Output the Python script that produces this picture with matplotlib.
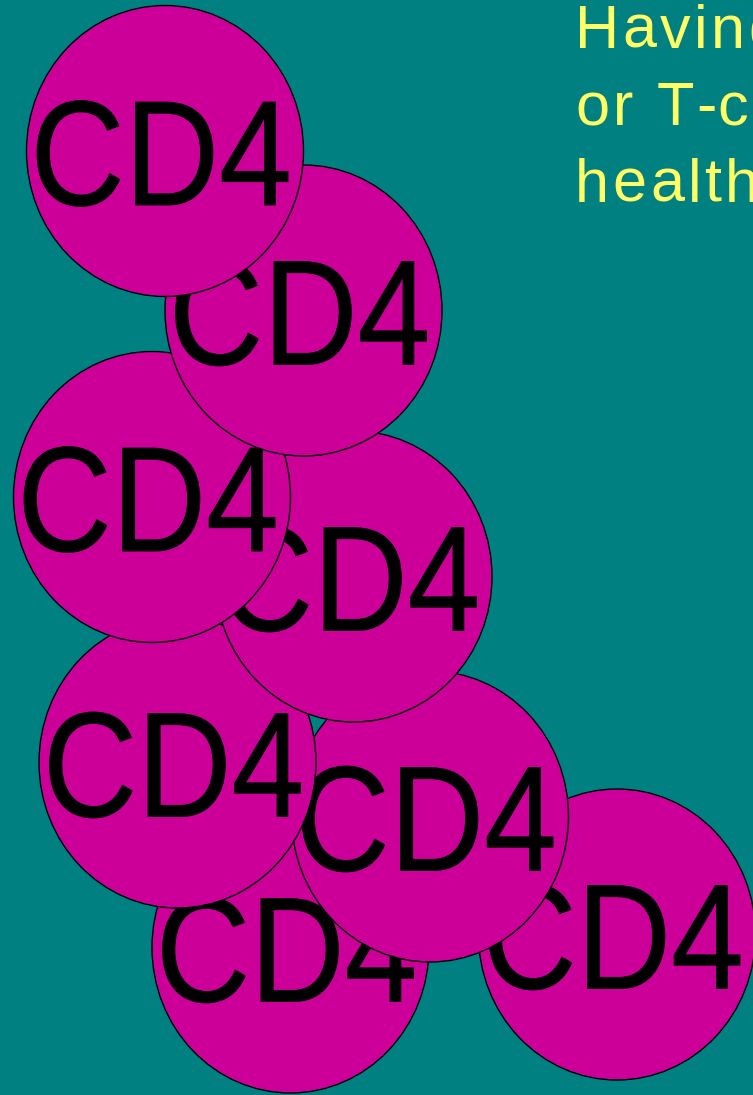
import matplotlib
matplotlib.use("Agg")
import matplotlib.pyplot as plt
from matplotlib.patches import Ellipse, PathPatch
from matplotlib.textpath import TextPath, TextToPath
from matplotlib.font_manager import FontProperties
from matplotlib.transforms import Affine2D

# cells, listed top to bottom of the stack (first one is drawn last, on top)
labels = ["CD4", "CD4", "CD4", "CD4", "CD4", "CD4", "CD4", "CD4"]
cx = [165, 303.5, 152, 353.5, 177.5, 430, 290.5, 617]
cy = [151, 310.5, 497, 576.5, 762.5, 816.5, 947.5, 934.5]

caption = ["Having a high number of CD4 cells,",
           "or T-cells, means a",
           "healthy immune system"]

BG = "#008080"
CELL = "#CC0099"
YELLOW = "#FFFF66"
W, H = 277, 291          # cell size in pixels
TW, TH = 251, 106        # ink box of the label

fig = plt.figure(figsize=(7.53, 10.95), dpi=100)
fig.patch.set_facecolor(BG)
ax = fig.add_axes([0, 0, 1, 1])
ax.set_xlim(0, 753)
ax.set_ylim(1095, 0)
ax.set_facecolor(BG)
ax.axis("off")

prop = FontProperties(family="Liberation Sans")
n = len(labels)
for i in range(n - 1, -1, -1):
    z = 2 * (n - i)
    ax.add_patch(Ellipse((cx[i], cy[i]), W, H, facecolor=CELL,
                         edgecolor="black", linewidth=1.0, zorder=z))
    tp = TextPath((0, 0), labels[i], size=100, prop=prop)
    ext = tp.get_extents()
    tr = (Affine2D()
          .translate(-ext.x0 - ext.width / 2, -ext.y0 - ext.height / 2)
          .scale(TW / ext.width, -TH / ext.height)
          .translate(cx[i] - 2.5, cy[i] + 2.5))
    ax.add_patch(PathPatch(tr.transform_path(tp), facecolor="black",
                           edgecolor="black", linewidth=0.6, zorder=z + 1))

# caption with a little extra letter spacing
cap_prop = FontProperties(family="Liberation Sans", size=44)
t2p = TextToPath()
spacing = 3.5  # px added after each character
for k, line in enumerate(caption):
    y = 48 + 77 * k
    for j, ch in enumerate(line):
        w_pt = t2p.get_text_width_height_descent(line[:j], cap_prop, ismath=False)[0] if j else 0
        x = 575 + w_pt * 100 / 72 + spacing * j
        if x > 760:
            break
        ax.text(x, y, ch, color=YELLOW, fontproperties=cap_prop,
                va="baseline", ha="left", zorder=50)

fig.savefig("out.png", dpi=100, facecolor=BG)
